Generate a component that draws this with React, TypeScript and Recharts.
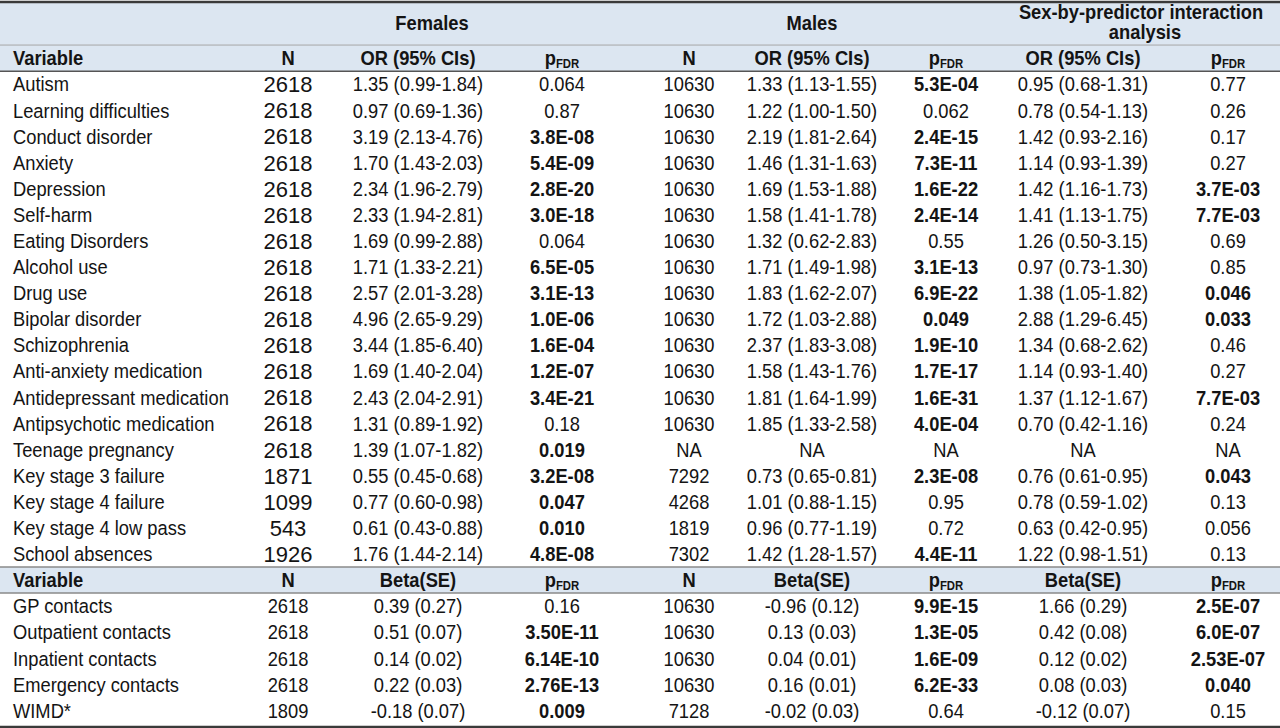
import React from "react";
import { ScatterChart, Scatter, XAxis, YAxis, ReferenceLine, ReferenceArea } from "recharts";

// ---------- data ----------
const orVariables = [
  "Autism", "Learning difficulties", "Conduct disorder", "Anxiety", "Depression", "Self-harm",
  "Eating Disorders", "Alcohol use", "Drug use", "Bipolar disorder", "Schizophrenia",
  "Anti-anxiety medication", "Antidepressant medication", "Antipsychotic medication",
  "Teenage pregnancy", "Key stage 3 failure", "Key stage 4 failure", "Key stage 4 low pass",
  "School absences",
];
const femalesN = ["2618","2618","2618","2618","2618","2618","2618","2618","2618","2618","2618","2618","2618","2618","2618","1871","1099","543","1926"];
const femalesOR = [
  "1.35 (0.99-1.84)","0.97 (0.69-1.36)","3.19 (2.13-4.76)","1.70 (1.43-2.03)","2.34 (1.96-2.79)",
  "2.33 (1.94-2.81)","1.69 (0.99-2.88)","1.71 (1.33-2.21)","2.57 (2.01-3.28)","4.96 (2.65-9.29)",
  "3.44 (1.85-6.40)","1.69 (1.40-2.04)","2.43 (2.04-2.91)","1.31 (0.89-1.92)","1.39 (1.07-1.82)",
  "0.55 (0.45-0.68)","0.77 (0.60-0.98)","0.61 (0.43-0.88)","1.76 (1.44-2.14)",
];
const femalesP = ["0.064","0.87","3.8E-08","5.4E-09","2.8E-20","3.0E-18","0.064","6.5E-05","3.1E-13","1.0E-06","1.6E-04","1.2E-07","3.4E-21","0.18","0.019","3.2E-08","0.047","0.010","4.8E-08"];
const malesN = ["10630","10630","10630","10630","10630","10630","10630","10630","10630","10630","10630","10630","10630","10630","NA","7292","4268","1819","7302"];
const malesOR = [
  "1.33 (1.13-1.55)","1.22 (1.00-1.50)","2.19 (1.81-2.64)","1.46 (1.31-1.63)","1.69 (1.53-1.88)",
  "1.58 (1.41-1.78)","1.32 (0.62-2.83)","1.71 (1.49-1.98)","1.83 (1.62-2.07)","1.72 (1.03-2.88)",
  "2.37 (1.83-3.08)","1.58 (1.43-1.76)","1.81 (1.64-1.99)","1.85 (1.33-2.58)","NA",
  "0.73 (0.65-0.81)","1.01 (0.88-1.15)","0.96 (0.77-1.19)","1.42 (1.28-1.57)",
];
const malesP = ["5.3E-04","0.062","2.4E-15","7.3E-11","1.6E-22","2.4E-14","0.55","3.1E-13","6.9E-22","0.049","1.9E-10","1.7E-17","1.6E-31","4.0E-04","NA","2.3E-08","0.95","0.72","4.4E-11"];
const interactionOR = [
  "0.95 (0.68-1.31)","0.78 (0.54-1.13)","1.42 (0.93-2.16)","1.14 (0.93-1.39)","1.42 (1.16-1.73)",
  "1.41 (1.13-1.75)","1.26 (0.50-3.15)","0.97 (0.73-1.30)","1.38 (1.05-1.82)","2.88 (1.29-6.45)",
  "1.34 (0.68-2.62)","1.14 (0.93-1.40)","1.37 (1.12-1.67)","0.70 (0.42-1.16)","NA",
  "0.76 (0.61-0.95)","0.78 (0.59-1.02)","0.63 (0.42-0.95)","1.22 (0.98-1.51)",
];
const interactionP = ["0.77","0.26","0.17","0.27","3.7E-03","7.7E-03","0.69","0.85","0.046","0.033","0.46","0.27","7.7E-03","0.24","NA","0.043","0.13","0.056","0.13"];

const betaVariables = ["GP contacts", "Outpatient contacts", "Inpatient contacts", "Emergency contacts", "WIMD*"];
const betaFemalesN = ["2618","2618","2618","2618","1809"];
const betaFemalesEst = ["0.39 (0.27)","0.51 (0.07)","0.14 (0.02)","0.22 (0.03)","-0.18 (0.07)"];
const betaFemalesP = ["0.16","3.50E-11","6.14E-10","2.76E-13","0.009"];
const betaMalesN = ["10630","10630","10630","10630","7128"];
const betaMalesEst = ["-0.96 (0.12)","0.13 (0.03)","0.04 (0.01)","0.16 (0.01)","-0.02 (0.03)"];
const betaMalesP = ["9.9E-15","1.3E-05","1.6E-09","6.2E-33","0.64"];
const betaInterEst = ["1.66 (0.29)","0.42 (0.08)","0.12 (0.02)","0.08 (0.03)","-0.12 (0.07)"];
const betaInterP = ["2.5E-07","6.0E-07","2.53E-07","0.040","0.15"];

const groupTitles = ["Females", "Males", "Sex-by-predictor interaction", "analysis"];
const orHeader = ["Variable", "N", "OR (95% CIs)", "pFDR", "N", "OR (95% CIs)", "pFDR", "OR (95% CIs)", "pFDR"];
const betaHeader = ["Variable", "N", "Beta(SE)", "pFDR", "N", "Beta(SE)", "pFDR", "Beta(SE)", "pFDR"];

// ---------- layout ----------
const W = 1280;
const H = 728;
const FONT = "'Liberation Sans', Arial, sans-serif";
const BASE = 19.5;      // slightly condensed text
const NARROW = 0.94;
const BIG = 22;         // the large female N values (not condensed)
const Y_TOP = -2.15;
const Y_BOTTOM = 25.63;
const COLX = [13, 288, 418, 562, 689, 812, 946, 1083, 1228];
const GROUPX = [432, 812, 1141, 1145];
const GROUPY = [-1.34, -1.34, -1.76, -0.99];
const OR_START = 1;
const BETA_HEADER_ROW = 20;
const BETA_START = 21;
const HEADER_FILL = "#dce6f1";
const INK = "#141414";

const isSig = (t: string) => {
  const v = parseFloat(t);
  return !isNaN(v) && v < 0.05;
};

type Pt = { x: number; y: number; t: string };

const column = (values: string[], x: number, start: number): Pt[] =>
  values.map((t, i) => ({ x, y: start + i, t }));

const makeShape = (opts: { anchor: string; size: number; sx: number; bold?: boolean; sig?: boolean }) =>
  (props: any) => {
    const { cx, cy, payload } = props;
    if (cx == null || cy == null) return <g />;
    const t: string = payload.t;
    const bold = opts.bold || (opts.sig && isSig(t));
    const tr = `translate(${cx} ${cy + 0.5}) scale(${opts.sx} 1)`;
    if (t === "pFDR") {
      return (
        <text x={0} y={0} transform={tr} textAnchor={opts.anchor as any} dominantBaseline="central"
          fontFamily={FONT} fontSize={opts.size} fontWeight={700} fill={INK}>
          p<tspan fontSize={opts.size * 0.62} dy={4}>FDR</tspan>
        </text>
      );
    }
    return (
      <text x={0} y={0} transform={tr} textAnchor={opts.anchor as any} dominantBaseline="central"
        fontFamily={FONT} fontSize={opts.size} fontWeight={bold ? 700 : 400} fill={INK}>
        {t}
      </text>
    );
  };

const leftText = makeShape({ anchor: "start", size: BASE, sx: NARROW });
const midText = makeShape({ anchor: "middle", size: BASE, sx: NARROW });
const bigText = makeShape({ anchor: "middle", size: BIG, sx: 1 });
const sigText = makeShape({ anchor: "middle", size: BASE, sx: NARROW, sig: true });
const headLeft = makeShape({ anchor: "start", size: BASE, sx: NARROW, bold: true });
const headMid = makeShape({ anchor: "middle", size: BASE, sx: NARROW, bold: true });

const orColumns = [orVariables, femalesN, femalesOR, femalesP, malesN, malesOR, malesP, interactionOR, interactionP];
const betaColumns = [betaVariables, betaFemalesN, betaFemalesEst, betaFemalesP, betaMalesN, betaMalesEst, betaMalesP, betaInterEst, betaInterP];

const shapeFor = (ci: number, section: "or" | "beta") => {
  if (ci === 0) return leftText;
  if (ci === 1 && section === "or") return bigText;
  if (ci === 3 || ci === 6 || ci === 8) return sigText;
  return midText;
};

const headerCols = [0, 1, 2, 3, 4, 5, 6, 7, 8];

export default function App() {
  const groupData: Pt[] = groupTitles.map((t, i) => ({ x: GROUPX[i], y: GROUPY[i], t }));
  return (
    <div style={{ width: W, height: H }}>
      <style>{`body{margin:0;background:#fff}`}</style>
      <ScatterChart width={W} height={H} margin={{ top: 2, right: 0, bottom: 1, left: 0 }}>
        <XAxis type="number" dataKey="x" domain={[0, W]} hide allowDataOverflow />
        <YAxis type="number" dataKey="y" domain={[Y_TOP, Y_BOTTOM]} reversed hide allowDataOverflow />
        <ReferenceArea y1={Y_TOP} y2={0.5} fill={HEADER_FILL} fillOpacity={1} stroke="none" ifOverflow="visible" />
        <ReferenceArea y1={BETA_HEADER_ROW - 0.5} y2={BETA_HEADER_ROW + 0.5} fill={HEADER_FILL} fillOpacity={1} stroke="none" ifOverflow="visible" />
        <ReferenceLine y={Y_TOP} stroke="#3a3a3a" strokeWidth={2.5} ifOverflow="visible" />
        <ReferenceLine y={-0.5} stroke="#a6a6a6" strokeWidth={1} ifOverflow="visible" />
        <ReferenceLine y={0.5} stroke="#555" strokeWidth={1.5} ifOverflow="visible" />
        <ReferenceLine y={BETA_HEADER_ROW - 0.5} stroke="#8a8a8a" strokeWidth={1.5} ifOverflow="visible" />
        <ReferenceLine y={BETA_HEADER_ROW + 0.5} stroke="#8a8a8a" strokeWidth={1.5} ifOverflow="visible" />
        <ReferenceLine y={Y_BOTTOM} stroke="#3a3a3a" strokeWidth={2.5} ifOverflow="visible" />

        <Scatter data={groupData} shape={headMid} isAnimationActive={false} />
        {headerCols.map((ci) => (
          <Scatter key={"h" + ci} data={[{ x: COLX[ci], y: 0, t: orHeader[ci] }]}
            shape={ci === 0 ? headLeft : headMid} isAnimationActive={false} />
        ))}
        {headerCols.map((ci) => (
          <Scatter key={"bh" + ci} data={[{ x: COLX[ci], y: BETA_HEADER_ROW, t: betaHeader[ci] }]}
            shape={ci === 0 ? headLeft : headMid} isAnimationActive={false} />
        ))}
        {orColumns.map((vals, ci) => (
          <Scatter key={"or" + ci} data={column(vals, COLX[ci], OR_START)} shape={shapeFor(ci, "or")} isAnimationActive={false} />
        ))}
        {betaColumns.map((vals, ci) => (
          <Scatter key={"b" + ci} data={column(vals, COLX[ci], BETA_START)} shape={shapeFor(ci, "beta")} isAnimationActive={false} />
        ))}
      </ScatterChart>
    </div>
  );
}
